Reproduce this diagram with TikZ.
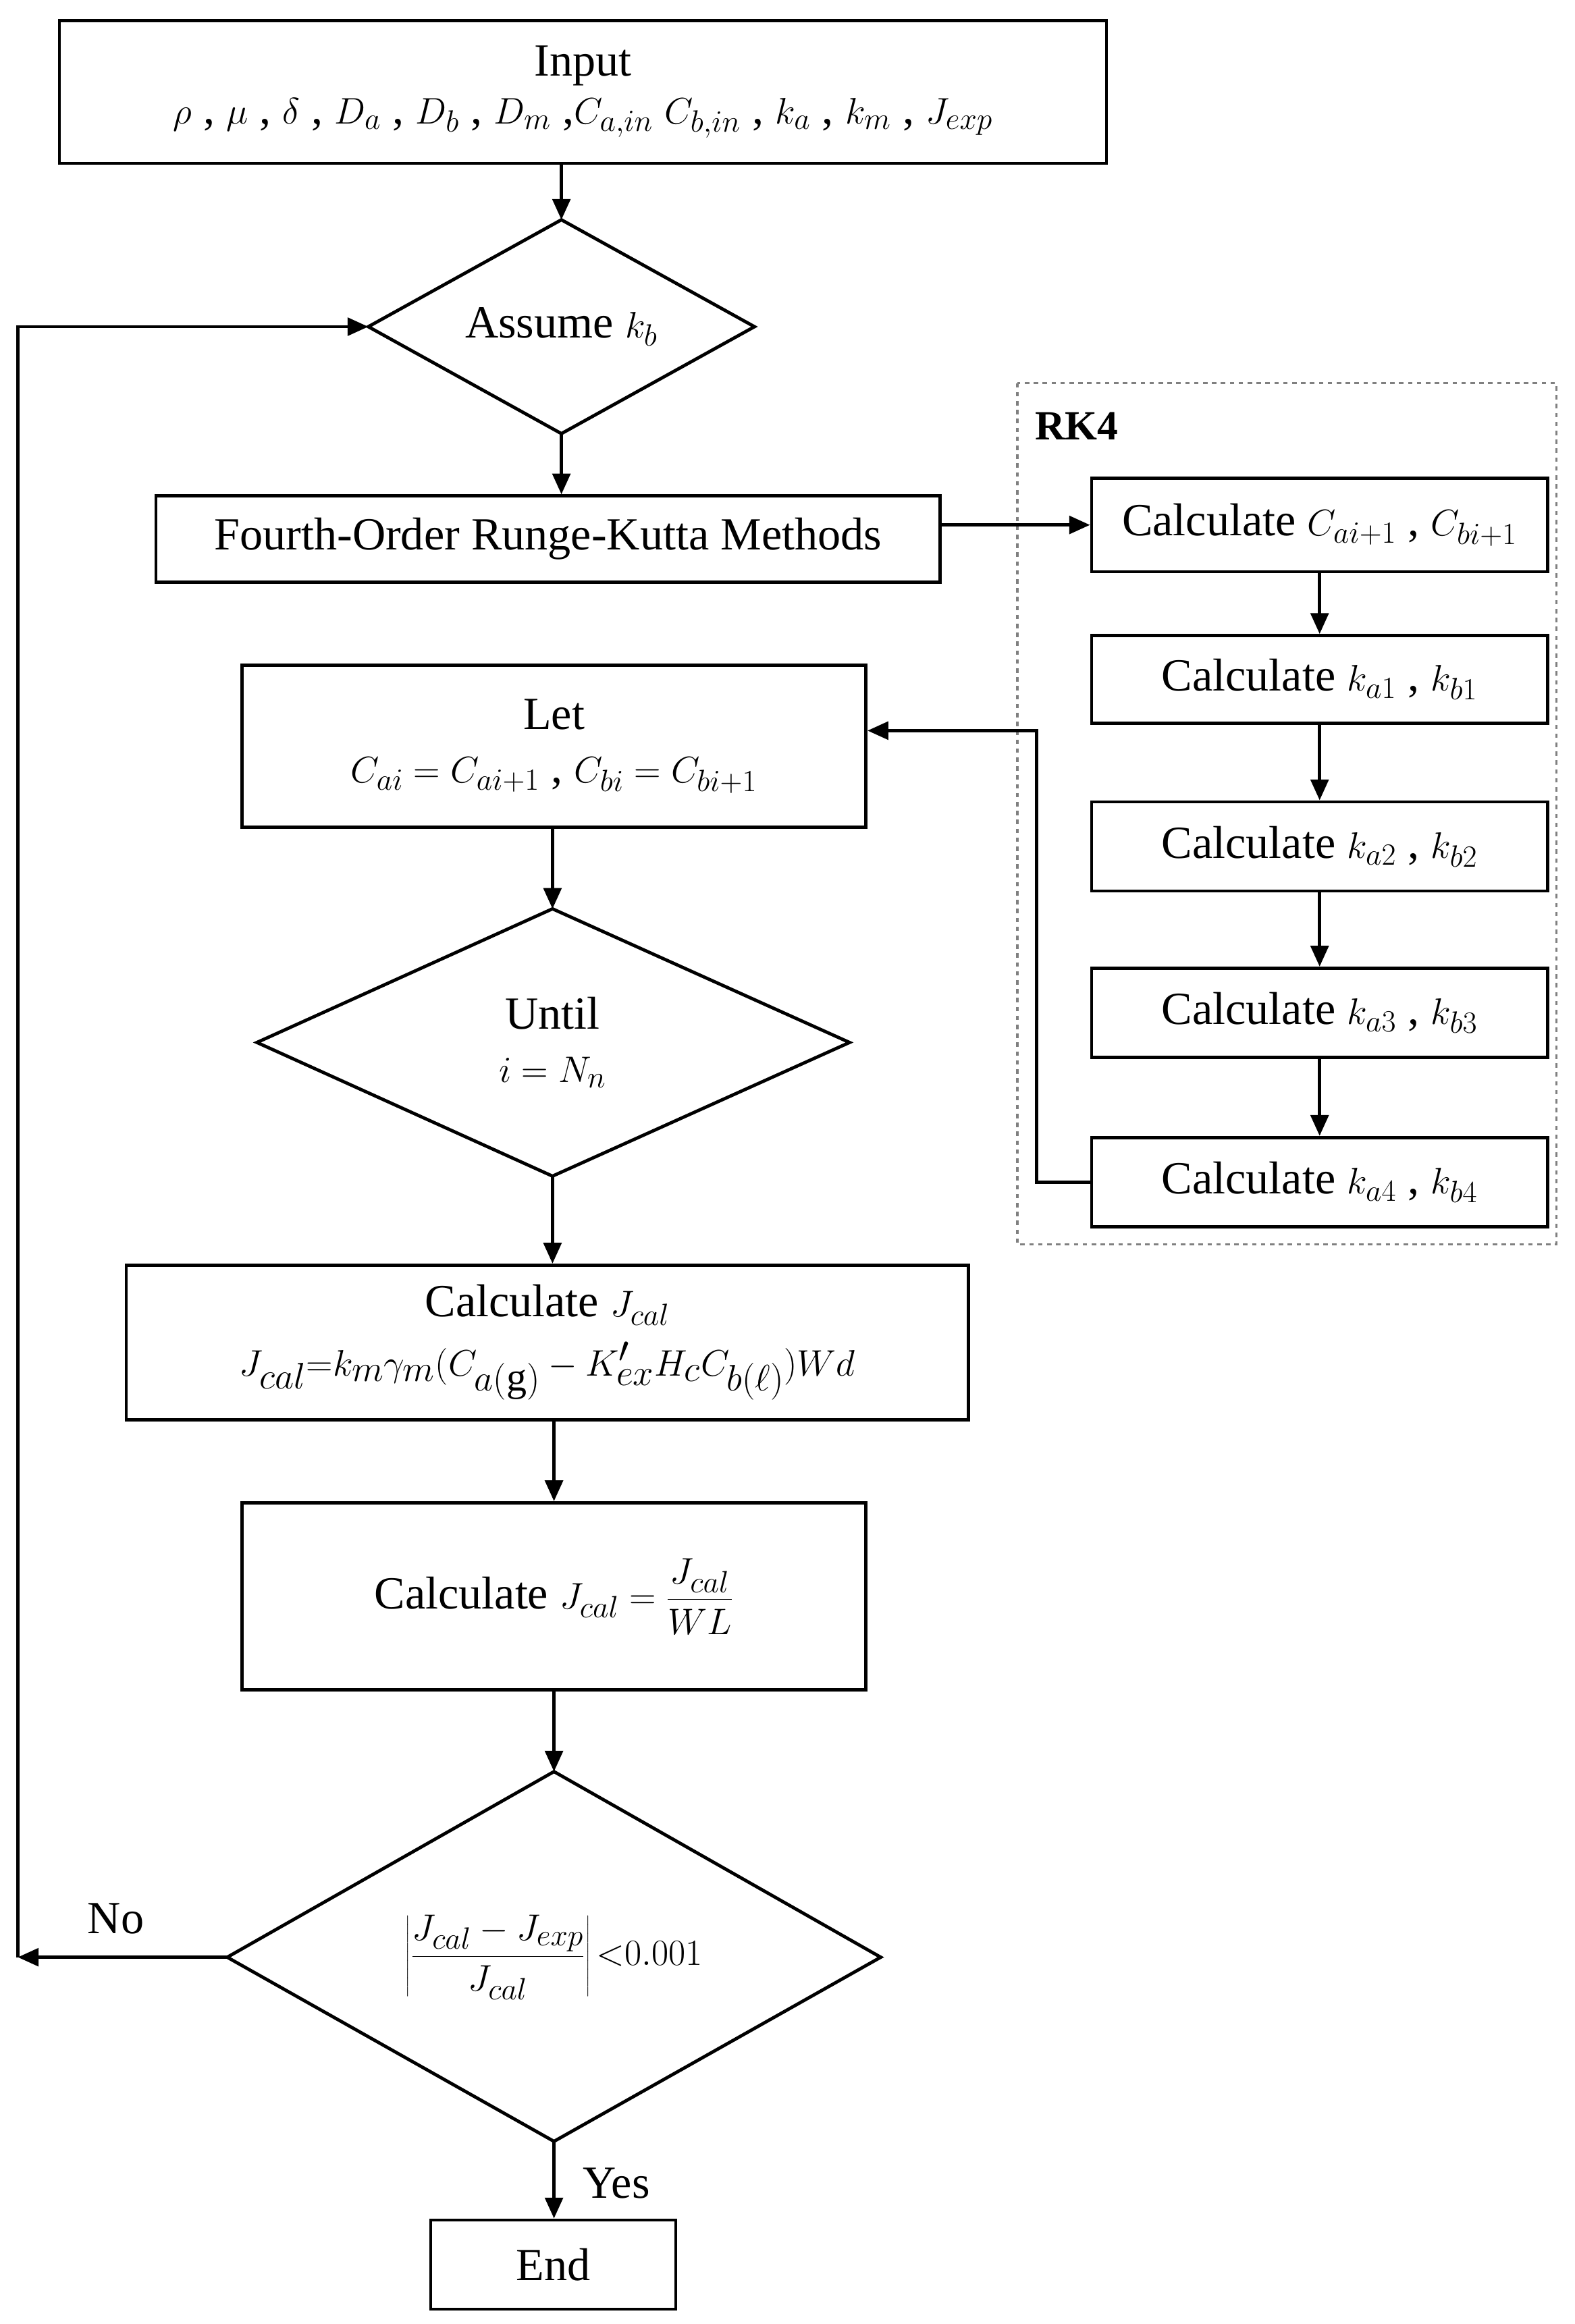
\documentclass[tikz,border=0pt]{standalone}
\usepackage{fontspec}
\setmainfont{Liberation Serif}
\usetikzlibrary{shapes.geometric,arrows.meta}
\begin{document}
\begin{tikzpicture}[x=1pt,y=-1pt,
  font=\fontsize{31}{36}\selectfont,
  box/.style={draw,line width=2.2pt,rectangle,inner sep=0pt,align=center},
  arr/.style={-{Triangle[length=14pt,width=12pt]},line width=2.2pt}]
\useasboundingbox (0,0) rectangle (1060,1565);
\node[box,minimum width=705,minimum height=96] (in) at (392.5,62) {Input\\[-4pt]$\rho$ , $\mu$ , $\delta$ , $D_a$ , $D_b$ , $D_m$ ,$C_{a,in}$ $C_{b,in}$ , $k_a$ , $k_m$ , $J_{exp}$};
\draw[line width=2.2pt] (378,148)--(508,220)--(378,292)--(248,220)--cycle;
\node (as) at (378,220) {Assume $k_b$};
\coordinate (asT) at (378,148); \coordinate (asW) at (248,220); \coordinate (asB) at (378,292);
\node[box,minimum width=528,minimum height=58] (rk) at (369,363) {Fourth-Order Runge-Kutta Methods};
\draw[dashed,gray,line width=1.5pt] (685,258) rectangle (1048,838);
\node[font=\fontsize{28}{32}\selectfont\bfseries] (rkl) at (725,287) {RK4};
\node[box,minimum width=307,minimum height=63] (c0) at (888.5,353.5) {Calculate $C_{ai+1}$ , $C_{bi+1}$};
\node[box,minimum width=307,minimum height=59] (c1) at (888.5,457.5) {Calculate $k_{a1}$ , $k_{b1}$};
\node[box,minimum width=307,minimum height=60] (c2) at (888.5,570) {Calculate $k_{a2}$ , $k_{b2}$};
\node[box,minimum width=307,minimum height=60] (c3) at (888.5,682) {Calculate $k_{a3}$ , $k_{b3}$};
\node[box,minimum width=307,minimum height=60] (c4) at (888.5,796) {Calculate $k_{a4}$ , $k_{b4}$};
\node[box,minimum width=420,minimum height=109] (let) at (373,502.5) {Let\\$C_{ai} = C_{ai+1}$ , $C_{bi} = C_{bi+1}$};
\draw[line width=2.2pt] (372,612)--(572,702)--(372,792)--(173,702)--cycle;
\node[align=center] (un) at (372,702) {Until\\$i = N_n$};
\coordinate (unT) at (372,612); \coordinate (unB) at (372,792);
\node[box,minimum width=567,minimum height=104] (jc) at (368.5,904) {Calculate $J_{cal}$\\[4pt]\fontsize{39}{42}\selectfont$J_{cal}{=}k_m\gamma_m\bigl(C_{a(\mathrm{g})}-K'_{ex}H_cC_{b(\ell)}\bigr)Wd$};
\node[box,minimum width=420,minimum height=126] (jl) at (373,1075) {Calculate $J_{cal} = \displaystyle\frac{J_{cal}}{WL}$};
\draw[line width=2.2pt] (373,1193)--(593,1318)--(373,1442)--(153,1318)--cycle;
\node (cr) at (373,1318) {$\displaystyle\left|\frac{J_{cal}-J_{exp}}{J_{cal}}\right|{<}0.001$};
\coordinate (crT) at (373,1193); \coordinate (crB) at (373,1442); \coordinate (crW) at (153,1318);
\node[box,minimum width=165,minimum height=60] (end) at (372.5,1525) {End};
\coordinate (lft) at (12,1318);
\coordinate (rt) at (698,492);
\node (no) at (78,1292) {No};
\node (yes) at (415,1470) {Yes};
\draw[arr] (in.south -| asT) -- (asT);
\draw[arr] (asB) -- (asB |- rk.north);
\draw[arr] (rk.east |- c0) -- (c0.west);
\draw[arr] (c0) -- (c1); \draw[arr] (c1) -- (c2); \draw[arr] (c2) -- (c3); \draw[arr] (c3) -- (c4);
\draw[arr] (c4.west) -| (rt) -- (let.east |- rt);
\draw[arr] (let.south -| unT) -- (unT);
\draw[arr] (unB) -- (unB |- jc.north);
\draw[arr] (jc.south -| jl) -- (jl.north);
\draw[arr] (jl.south -| crT) -- (crT);
\draw[arr] (crB) -- (crB |- end.north);
\draw[arr] (crW) -- (lft);
\draw[arr] (lft) |- (asW);
\end{tikzpicture}
\end{document}
